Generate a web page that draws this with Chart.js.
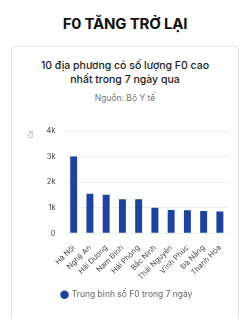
<!DOCTYPE html>
<html>
<head>
<meta charset="utf-8">
<script src="https://cdn.jsdelivr.net/npm/chart.js@4.4.0/dist/chart.umd.min.js"></script>
<style>
  html, body { margin:0; padding:0; background:#fff; width:250px; height:319px; overflow:hidden; font-family:"Inter","Open Sans",sans-serif; }
  #title { position:absolute; left:0; top:14px; width:250px; text-align:center; font-weight:700; font-size:15px; color:#111; letter-spacing:-0.2px; }
  #card { position:absolute; left:11px; top:46px; width:226px; height:290px; border:1px solid #e2e2e2; border-radius:4px; background:#fff; }
  #ctitle { position:absolute; left:0; top:12px; width:226px; text-align:center; font-size:10.5px; line-height:14px; color:#222; font-weight:500; }
  #csrc { position:absolute; left:0; top:46px; width:226px; text-align:center; font-size:8.5px; color:#777; }
  #wrap { position:absolute; left:0; top:62px; width:226px; height:205px; }
</style>
</head>
<body>
<div id="title">F0 TĂNG TRỞ LẠI</div>
<div id="card">
  <div id="ctitle">10 địa phương có số lượng F0 cao<br>nhất trong 7 ngày qua</div>
  <div id="csrc">Nguồn: Bộ Y tế</div>
  <div id="wrap"><canvas id="c"></canvas></div>
</div>
<script>
const categories = ["Hà Nội","Nghệ An","Hải Dương","Nam Định","Hải Phòng","Bắc Ninh","Thái Nguyên","Vĩnh Phúc","Đà Nẵng","Thanh Hóa"];
const values = [3000, 1545, 1510, 1330, 1330, 1000, 910, 905, 870, 850];
const seriesLabel = "Trung bình số F0 trong 7 ngày";
const yTicks = [0, 1000, 2000, 3000, 4000];
const yTickLabels = ["0", "1k", "2k", "3k", "4k"];
const yTitle = "Ca";

new Chart(document.getElementById('c'), {
  type: 'bar',
  data: {
    labels: categories,
    datasets: [{ label: seriesLabel, data: values, backgroundColor: '#1f429c', borderWidth: 0, barPercentage: 0.45, categoryPercentage: 0.95 }]
  },
  options: {
    responsive: true, maintainAspectRatio: false, animation: false,
    layout: { padding: { left: 14, right: 10, top: 22, bottom: 5 } },
    plugins: {
      legend: { position: 'bottom', labels: { usePointStyle: true, pointStyle: 'circle', boxWidth: 6, boxHeight: 6, color: '#666', font: { family: 'Inter', size: 8.5 }, padding: 7 } },
      tooltip: { enabled: false }
    },
    scales: {
      x: {
        grid: { display: false },
        border: { display: false },
        ticks: { color: '#444', font: { family: 'Inter', size: 7.5 }, maxRotation: 45, minRotation: 45, autoSkip: false, padding: 2 }
      },
      y: {
        min: 0, max: 4000,
        afterBuildTicks: s => { s.ticks = yTicks.map(v => ({ value: v })); },
        grid: { color: '#ececec', drawTicks: false },
        border: { display: false },
        ticks: { color: '#444', font: { family: 'Inter', size: 7.5 }, padding: 10, callback: (v) => yTickLabels[yTicks.indexOf(v)] },
        title: { display: true, text: yTitle, color: '#999', font: { family: 'Inter', size: 5.5 }, padding: 2, align: 'end' }
      }
    }
  }
});
</script>
</body>
</html>
